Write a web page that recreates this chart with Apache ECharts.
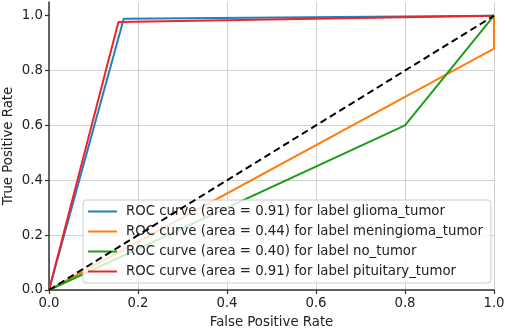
<!DOCTYPE html>
<html>
<head>
<meta charset="utf-8">
<script src="https://cdn.jsdelivr.net/npm/echarts@6/dist/echarts.min.js"></script>
<style>
  html, body { margin: 0; padding: 0; background: #fff; }
  #chart { width: 505px; height: 330px; }
</style>
</head>
<body>
<div id="chart"></div>
<script>
const labels = ['glioma_tumor', 'meningioma_tumor', 'no_tumor', 'pituitary_tumor']
const areas = ['0.91', '0.44', '0.40', '0.91']
const colors = ['#1f80c0', '#ff7f0e', '#1a9f1a', '#ee2428']

// fpr / tpr per class
const fprGlioma = [0, 0.168, 1]
const tprGlioma = [0, 0.989, 1]
const fprMening = [0, 1, 1]
const tprMening = [0, 0.88, 1]
const fprNoTumor = [0, 0.8, 1]
const tprNoTumor = [0, 0.6, 1]
const fprPituitary = [0, 0.156, 1]
const tprPituitary = [0, 0.977, 1]

const diagonal = [0, 1]
const ticks = [0, 0.2, 0.4, 0.6, 0.8, 1.0]

const fprs = [fprGlioma, fprMening, fprNoTumor, fprPituitary]
const tprs = [tprGlioma, tprMening, tprNoTumor, tprPituitary]

const font = 'DejaVu Sans'
const fs = 13.3
const chart = echarts.init(document.getElementById('chart'))

const names = labels.map((l, i) => `ROC curve (area = ${areas[i]}) for label ${l}`)

const series = labels.map((l, i) => ({
  name: names[i],
  type: 'line',
  symbol: 'none',
  data: fprs[i].map((x, j) => [x, tprs[i][j]]),
  lineStyle: { color: colors[i], width: 2 },
  itemStyle: { color: colors[i] },
  clip: false,
  z: 3
}))

series.push({
  name: 'diag',
  type: 'line',
  symbol: 'none',
  data: diagonal.map(v => [v, v]),
  lineStyle: { color: '#000', width: 2, type: [7, 4] },
  z: 4
})

chart.setOption({
  backgroundColor: '#fff',
  animation: false,
  grid: { left: 49, right: 11, top: 2, bottom: 40, outerBoundsMode: 'none', containLabel: false },
  xAxis: {
    type: 'value',
    min: 0,
    max: 1,
    interval: 0.2,
    name: 'False Positive Rate',
    nameLocation: 'middle',
    nameGap: 26,
    nameMoveOverlap: false,
    nameTextStyle: { fontFamily: font, fontSize: fs, color: '#222' },
    axisLine: { lineStyle: { color: '#333', width: 1.5 } },
    axisTick: { show: true, length: 4, lineStyle: { color: '#333', width: 1.2 } },
    axisLabel: { fontFamily: font, fontSize: fs, color: '#222', margin: 7, formatter: v => v.toFixed(1) },
    splitLine: { show: true, lineStyle: { color: '#d0d0d0', width: 1 } }
  },
  yAxis: {
    type: 'value',
    min: 0,
    max: 1.05,
    interval: 0.2,
    name: 'True Positive Rate',
    nameLocation: 'middle',
    nameGap: 34,
    nameMoveOverlap: false,
    nameTextStyle: { fontFamily: font, fontSize: fs, color: '#222' },
    axisLine: { show: true, lineStyle: { color: '#333', width: 1.5 } },
    axisTick: { show: true, length: 4, customValues: ticks, lineStyle: { color: '#333', width: 1.2 } },
    axisLabel: { fontFamily: font, fontSize: fs, color: '#222', margin: 6, customValues: ticks, formatter: v => v.toFixed(1) },
    splitLine: { show: true, showMaxLine: false, lineStyle: { color: '#d0d0d0', width: 1 } }
  },
  legend: {
    data: names,
    orient: 'vertical',
    left: 83,
    top: 200,
    padding: [4, 8, 4, 5],
    itemWidth: 29,
    itemHeight: 2,
    itemGap: 5,
    icon: 'rect',
    backgroundColor: 'rgba(255,255,255,0.8)',
    borderColor: '#cccccc',
    borderWidth: 1,
    borderRadius: 3,
    textStyle: { fontFamily: font, fontSize: fs, color: '#222', lineHeight: 15, padding: [0, 0, 0, 4] }
  },
  series: series
})
</script>
</body>
</html>
